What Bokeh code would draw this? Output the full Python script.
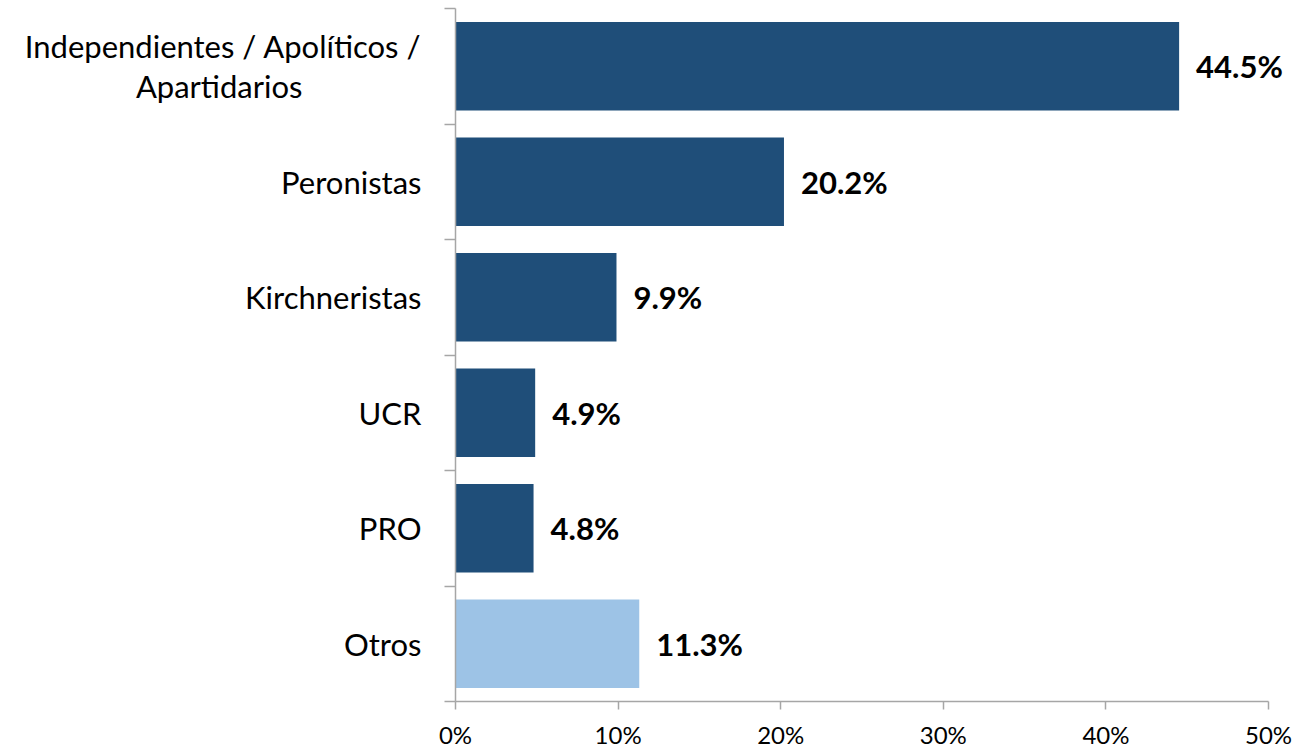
from bokeh.plotting import figure
from bokeh.models import FixedTicker, PrintfTickFormatter, ColumnDataSource
from bokeh.core.properties import value
from bokeh.embed import file_html
from bokeh.resources import INLINE

NB = "\u00a0"
categories = ["Independientes / Apolíticos /\nApartidarios" + NB * 15, "Peronistas", "Kirchneristas", "UCR", "PRO", "Otros"]
values = [44.5, 20.2, 9.9, 4.9, 4.8, 11.3]
labels = ["44.5%", "20.2%", "9.9%", "4.9%", "4.8%", "11.3%"]
colors = ["#1F4E79", "#1F4E79", "#1F4E79", "#1F4E79", "#1F4E79", "#9DC3E6"]
x_ticks = [0, 10, 20, 30, 40, 50]

n = len(categories)
ypos = [n - i - 0.5 for i in range(n)]
src = ColumnDataSource(dict(y=ypos, v=values, lab=labels, c=colors))

FONT = "Lato"
p = figure(width=1297, height=751, output_backend="svg", toolbar_location=None,
           x_range=(0, 51.78), y_range=(0, n),
           min_border_left=455, min_border_right=0, min_border_top=8, min_border_bottom=46)
p.outline_line_color = None
p.xgrid.visible = False
p.ygrid.visible = False

p.hbar(y="y", right="v", left=0, height=0.766, fill_color="c", line_color=None, source=src)
p.text(x="v", y="y", text="lab", source=src, x_offset=17, text_align="left", text_baseline="middle",
       text_font=value(FONT), text_font_style="bold", text_font_size="31px", text_color="#000000")

axc = "#A6A6A6"
xa = p.xaxis[0]
xa.bounds = (0, 50)
xa.ticker = FixedTicker(ticks=x_ticks)
xa.formatter = PrintfTickFormatter(format="%d%%")
xa.axis_line_color = axc
xa.axis_line_width = 1.5
xa.major_tick_line_color = axc
xa.major_tick_line_width = 1.5
xa.major_tick_out = 8
xa.major_tick_in = 0
xa.minor_tick_line_color = None
xa.major_label_text_font = FONT
xa.major_label_text_font_size = "24px"
xa.major_label_text_color = "#000000"
xa.major_label_standoff = 10

ya = p.yaxis[0]
ya.ticker = FixedTicker(ticks=ypos, minor_ticks=list(range(n + 1)))
ya.major_label_overrides = {y: c for y, c in zip(ypos, categories)}
ya.axis_line_color = axc
ya.axis_line_width = 1.5
ya.major_tick_out = 0
ya.major_tick_in = 0
ya.major_tick_line_color = None
ya.minor_tick_line_color = axc
ya.minor_tick_line_width = 1.5
ya.minor_tick_out = 11
ya.minor_tick_in = 0
ya.major_label_text_font = FONT
ya.major_label_text_font_size = "31px"
ya.major_label_text_color = "#000000"
ya.major_label_standoff = 23
ya.major_label_text_line_height = 1.06

open("out.html", "w").write(file_html(p, INLINE))
